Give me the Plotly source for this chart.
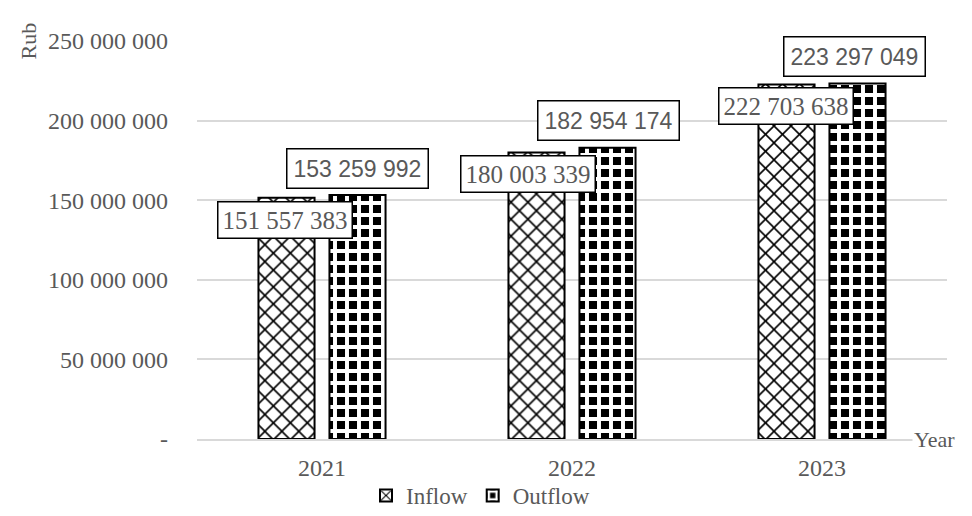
import plotly.graph_objects as go

years = ["2021", "2022", "2023"]
inflow = [151557383, 180003339, 222703638]
outflow = [153259992, 182954174, 223297049]
ytick_vals = [0, 50000000, 100000000, 150000000, 200000000, 250000000]
ytick_text = ["-", "50 000 000", "100 000 000", "150 000 000", "200 000 000", "250 000 000"]

def fmt(v):
    return f"{v:,}".replace(",", " ")

SERIF = "Liberation Serif, Times New Roman, serif"
SANS = "Liberation Sans, Arial, sans-serif"
GREY = "#595959"

fig = go.Figure()
fig.add_trace(go.Bar(
    name="Inflow", x=years, y=inflow,
    marker=dict(color="white", line=dict(color="black", width=2),
                pattern=dict(shape="x", fgcolor="black", bgcolor="white", fgopacity=1,
                             size=12, solidity=0.25)),
))
fig.add_trace(go.Bar(
    name="Outflow", x=years, y=outflow,
    marker=dict(color="black", line=dict(color="black", width=2),
                pattern=dict(shape="+", fgcolor="white", bgcolor="black", fgopacity=1,
                             size=12, solidity=0.55)),
))

# data labels (x given as category index)
in_shift = [-1, -8, 0]
out_shift = [-1, 0, -4]
for i, y in enumerate(years):
    fig.add_annotation(x=i, y=inflow[i], text=fmt(inflow[i]), showarrow=False,
                       xref="x", yref="y", xshift=-36 + in_shift[i], yshift=-22,
                       font=dict(family=SERIF, size=25, color=GREY),
                       bgcolor="white", bordercolor="black", borderwidth=1.5, borderpad=4)
    fig.add_annotation(x=i, y=outflow[i], text=fmt(outflow[i]), showarrow=False,
                       xref="x", yref="y", xshift=36 + out_shift[i], yshift=27,
                       font=dict(family=SANS, size=23, color=GREY),
                       bgcolor="white", bordercolor="black", borderwidth=1.5, borderpad=6)

fig.add_annotation(text="Rub", xref="paper", yref="paper", x=-0.226, y=1.0,
                   xanchor="center", yanchor="middle", textangle=-90, showarrow=False,
                   font=dict(family=SERIF, size=22, color=GREY))
fig.add_annotation(text="Year", xref="paper", yref="paper", x=0.953, y=0.0,
                   xanchor="left", yanchor="middle", showarrow=False, bgcolor="white",
                   font=dict(family=SERIF, size=22, color=GREY))

fig.update_layout(
    width=972, height=516,
    margin=dict(l=197, r=25, t=41, b=77, autoexpand=False),
    plot_bgcolor="white", paper_bgcolor="white",
    barmode="group", bargap=0.432, bargroupgap=0.21,
    font=dict(family=SERIF, size=23, color=GREY),
    showlegend=True,
    legend=dict(orientation="h", x=0.378, xanchor="center", y=-0.088, yanchor="top",
                bgcolor="rgba(0,0,0,0)",
                font=dict(family=SERIF, size=23, color=GREY),
                traceorder="normal", itemsizing="constant"),
    xaxis=dict(type="category", range=[-0.5, 2.5], showgrid=False, showline=True,
               linecolor="#d9d9d9", linewidth=1.5,
               tickfont=dict(family=SERIF, size=24, color=GREY), ticks="", ticklabelstandoff=6,
               automargin=False),
    yaxis=dict(range=[0, 250000000], tickvals=ytick_vals, ticktext=ytick_text,
               showgrid=True, gridcolor="#d9d9d9", gridwidth=1.5, zeroline=False, showline=False,
               tickfont=dict(family=SERIF, size=24, color=GREY), ticks="", ticklabelstandoff=28,
               automargin=False),
)

fig.write_html("out.html", config={"displayModeBar": False},
               post_script="document.body.style.margin='0';document.body.style.overflow='hidden';")
